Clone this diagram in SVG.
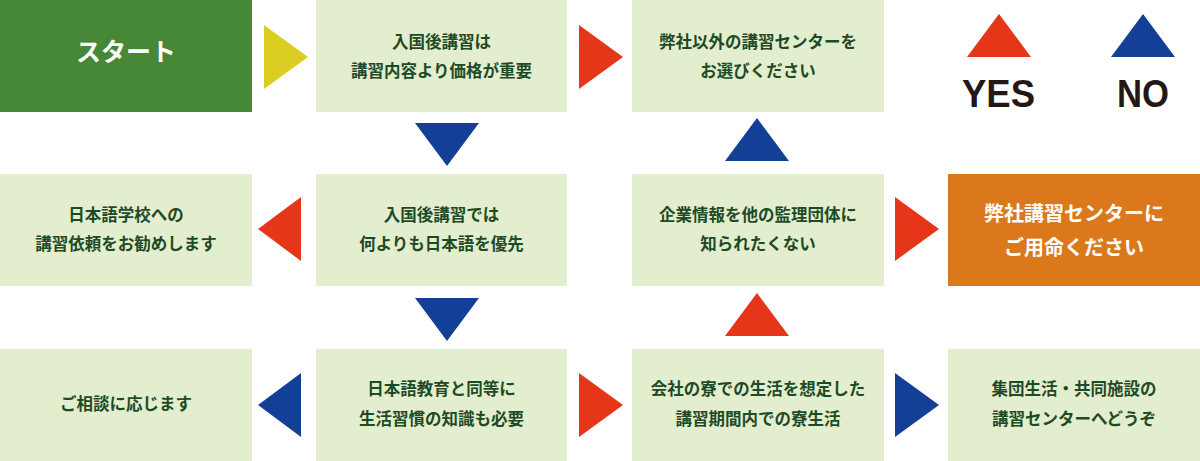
<svg xmlns="http://www.w3.org/2000/svg" width="1200" height="461" viewBox="0 0 1200 461">
<style>
.box{fill:#e2eecd}
.t{font-family:"Noto Sans CJK JP","Noto Sans",sans-serif;font-weight:bold;font-size:16.5px;fill:#1e4a27;text-anchor:middle}
.w{font-family:"Noto Sans CJK JP","Noto Sans",sans-serif;font-weight:bold;fill:#ffffff;text-anchor:middle}
.lg{font-family:"Liberation Sans",Arial,sans-serif;font-weight:bold;font-size:38px;fill:#231815;text-anchor:middle}
.red{fill:#e5361a}
.blue{fill:#143f96}
.yel{fill:#dccd23}
</style>
<rect width="1200" height="461" fill="#ffffff"/>
<g id="start">
<rect x="0" y="0" width="252" height="112" fill="#478837"/>
<text class="w" x="126" y="61" font-size="25">スタート</text>
</g>
<g id="q1">
<rect class="box" x="316" y="0" width="251" height="112"/>
<text class="t" x="441.5" y="48">入国後講習は</text>
<text class="t" x="441.5" y="77">講習内容より価格が重要</text>
</g>
<g id="r1">
<rect class="box" x="632" y="0" width="252" height="112"/>
<text class="t" x="758" y="48">弊社以外の講習センターを</text>
<text class="t" x="758" y="77">お選びください</text>
</g>
<g id="legend">
<polygon class="red" points="967,57 999,14 1031,57"/>
<polygon class="blue" points="1111,57 1143,14 1175,57"/>
<text class="lg" x="998.5" y="107" textLength="73" lengthAdjust="spacingAndGlyphs">YES</text>
<text class="lg" x="1143" y="107" textLength="52" lengthAdjust="spacingAndGlyphs">NO</text>
</g>
<g id="r2">
<rect class="box" x="0" y="174" width="252" height="112"/>
<text class="t" x="126" y="221">日本語学校への</text>
<text class="t" x="126" y="250">講習依頼をお勧めします</text>
</g>
<g id="q2">
<rect class="box" x="316" y="174" width="251" height="112"/>
<text class="t" x="441.5" y="221">入国後講習では</text>
<text class="t" x="441.5" y="250">何よりも日本語を優先</text>
</g>
<g id="q4">
<rect class="box" x="632" y="174" width="252" height="112"/>
<text class="t" x="758" y="221">企業情報を他の監理団体に</text>
<text class="t" x="758" y="250">知られたくない</text>
</g>
<g id="goal">
<rect x="948" y="174" width="252" height="112" fill="#db781b"/>
<text class="w" x="1074" y="220.5" font-size="20">弊社講習センターに</text>
<text class="w" x="1074" y="254.5" font-size="20">ご用命ください</text>
</g>
<g id="r3">
<rect class="box" x="0" y="349" width="252" height="112"/>
<text class="t" x="126" y="410">ご相談に応じます</text>
</g>
<g id="q3">
<rect class="box" x="316" y="349" width="251" height="112"/>
<text class="t" x="441.5" y="395">日本語教育と同等に</text>
<text class="t" x="441.5" y="425">生活習慣の知識も必要</text>
</g>
<g id="q5">
<rect class="box" x="632" y="349" width="252" height="112"/>
<text class="t" x="758" y="395">会社の寮での生活を想定した</text>
<text class="t" x="758" y="425">講習期間内での寮生活</text>
</g>
<g id="r4">
<rect class="box" x="948" y="349" width="252" height="112"/>
<text class="t" x="1074" y="395">集団生活・共同施設の</text>
<text class="t" x="1074" y="425">講習センターへどうぞ</text>
</g>
<g id="connectors">
<polygon class="yel" points="264,25 308,57 264,89"/>
<polygon class="red" points="579,25 623,57 579,89"/>
<polygon class="blue" points="415,123 479,123 447,166"/>
<polygon class="blue" points="725,161 757,118 789,161"/>
<polygon class="red" points="301,197 258,229 301,261"/>
<polygon class="blue" points="415,298 479,298 447,341"/>
<polygon class="red" points="725,336 757,293 789,336"/>
<polygon class="red" points="895,197 939,229 895,261"/>
<polygon class="blue" points="301,373 258,405 301,437"/>
<polygon class="red" points="579,373 623,405 579,437"/>
<polygon class="blue" points="895,373 939,405 895,437"/>
</g>
</svg>
